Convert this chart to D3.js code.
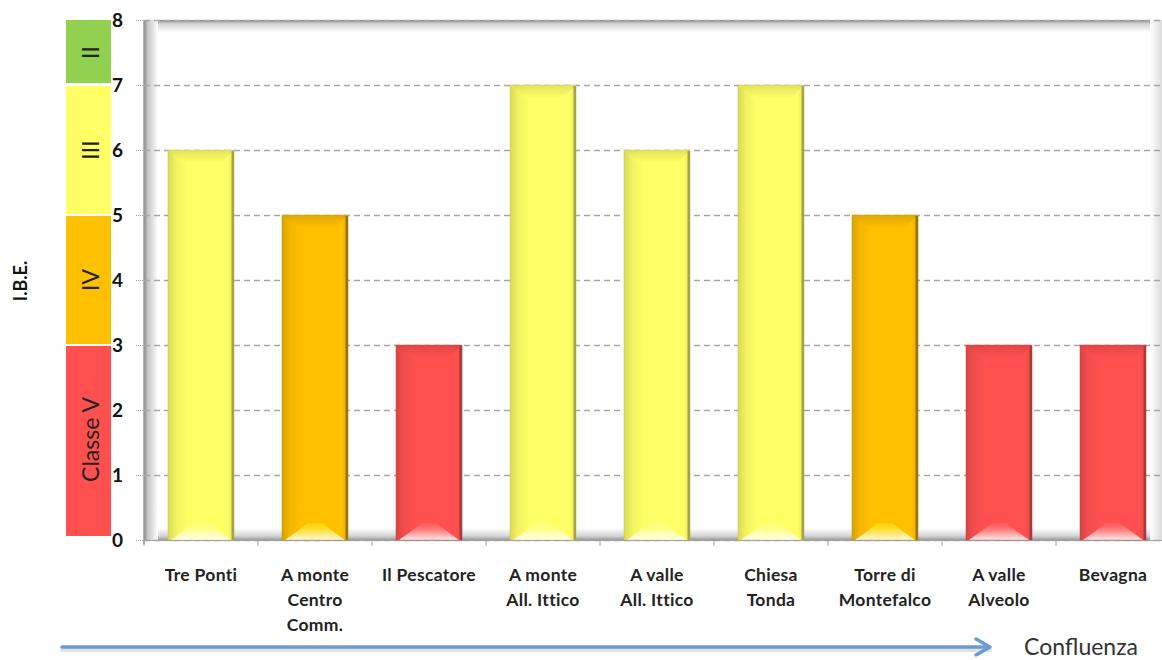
<!DOCTYPE html>
<html>
<head>
<meta charset="utf-8">
<script src="https://cdn.jsdelivr.net/npm/d3@7"></script>
<style>
  body { margin: 0; background: #fff; }
  text { font-family: Lato, "Open Sans", sans-serif; }
</style>
</head>
<body>
<div id="chart"></div>
<script>
// data
var categories = ["Tre Ponti", "A monte|Centro|Comm.", "Il Pescatore", "A monte|All. Ittico",
  "A valle|All. Ittico", "Chiesa|Tonda", "Torre di|Montefalco", "A valle|Alveolo", "Bevagna"];
var values = [6, 5, 3, 7, 6, 7, 5, 3, 3];
var yTicks = [0, 1, 2, 3, 4, 5, 6, 7, 8];

// quality classes (strip on the left)
var classLabels = ["Classe V", "IV", "III", "II"];
var classLow = [0, 3, 5, 7];
var classHigh = [3, 5, 7, 8];
var classColors = ["#ff5050", "#ffc000", "#ffff66", "#92d050"];

var W = 1162, H = 660;
var svg = d3.select("#chart").append("svg")
  .attr("width", W).attr("height", H);

var y = d3.scaleLinear().domain([0, 8]).range([540, 20]);
var x = d3.scaleBand().domain(categories).range([144, 1170])
  .paddingInner(0.42).paddingOuter(0.21);

var defs = svg.append("defs");

function lin(id, x1, y1, x2, y2, stops) {
  var g = defs.append("linearGradient").attr("id", id)
    .attr("x1", x1).attr("y1", y1).attr("x2", x2).attr("y2", y2);
  stops.forEach(function (s) {
    g.append("stop").attr("offset", s[0]).attr("stop-color", s[1]).attr("stop-opacity", s[2] == null ? 1 : s[2]);
  });
}

// walls of the plot area
lin("wallL", 0, 0, 1, 0, [[0, "#858585"], [0.25, "#c4c4c4"], [1, "#ffffff"]]);
lin("wallT", 0, 0, 0, 1, [[0, "#8c8c8c"], [0.3, "#d0d0d0"], [1, "#ffffff"]]);
lin("wallB", 0, 1, 0, 0, [[0, "#9a9a9a"], [0.35, "#d6d6d6"], [1, "#ffffff"]]);
lin("wallR", 1, 0, 0, 0, [[0, "#dcdcdc"], [1, "#ffffff"]]);

svg.append("rect").attr("x", 144).attr("y", 20).attr("width", 1162 - 144).attr("height", 12).attr("fill", "url(#wallT)");
svg.append("rect").attr("x", 144).attr("y", 528).attr("width", 1162 - 144).attr("height", 12).attr("fill", "url(#wallB)");
svg.append("rect").attr("x", 1150).attr("y", 20).attr("width", 12).attr("height", 520).attr("fill", "url(#wallR)");
svg.append("rect").attr("x", 144).attr("y", 20).attr("width", 14).attr("height", 520).attr("fill", "url(#wallL)");
svg.append("line").attr("x1", 144).attr("x2", 144).attr("y1", 20).attr("y2", 544)
  .attr("stroke", "#9a9a9a").attr("stroke-width", 1.5);

// gridlines
svg.append("g").selectAll("line").data(yTicks).enter().append("line")
  .attr("x1", 144).attr("x2", 1162)
  .attr("y1", function (d) { return y(d) + 0.5; }).attr("y2", function (d) { return y(d) + 0.5; })
  .attr("stroke", "#a6a6a6").attr("stroke-width", 1.3).attr("stroke-dasharray", "6,4");
svg.append("g").selectAll("line").data(yTicks).enter().append("line")
  .attr("x1", 136).attr("x2", 144)
  .attr("y1", function (d) { return y(d) + 0.5; }).attr("y2", function (d) { return y(d) + 0.5; })
  .attr("stroke", "#a6a6a6").attr("stroke-width", 1).attr("stroke-dasharray", "1,1");

// x axis line + ticks
svg.append("line").attr("x1", 144).attr("x2", 1162).attr("y1", 540.5).attr("y2", 540.5)
  .attr("stroke", "#a0a0a0");
var xb = categories.map(function (c) { return x(c) - x.step() * x.paddingInner() / 2; });
svg.append("g").selectAll("line").data(xb).enter().append("line")
  .attr("x1", function (d) { return d; }).attr("x2", function (d) { return d; })
  .attr("y1", 540).attr("y2", 546).attr("stroke", "#a0a0a0");

// bar colors by class
function classOf(v) {
  for (var i = 0; i < classLow.length; i++) {
    if (v > classLow[i] && v <= classHigh[i]) return i;
  }
  return 0;
}
var darkEdge = ["#8a3a3a", "#7a5a10", "#8a8a40", "#4a7030"];
classColors.forEach(function (c, i) {
  var base = d3.color(c);
  lin("body" + i, 0, 0, 1, 0, [[0, base.darker(0.45)], [0.12, base.darker(0.15)], [0.3, base], [0.9, base], [1, base.darker(0.3)]]);
  lin("top" + i, 0, 0, 0, 1, [[0, base.darker(0.4)], [1, base]]);
  lin("bot" + i, 0, 1, 0, 0, [[0, "#ffffff", 0.9], [1, base.brighter(0.6), 0.4]]);
});

var bars = svg.append("g").selectAll("g").data(categories).enter().append("g");
bars.each(function (c, i) {
  var g = d3.select(this);
  var k = classOf(values[i]);
  var x0 = x(c), w = x.bandwidth(), y0 = y(values[i]), y1 = y(0);
  var b = 13;
  g.append("rect").attr("x", x0).attr("y", y0).attr("width", w).attr("height", y1 - y0)
    .attr("fill", "url(#body" + k + ")");
  // top bevel
  g.append("path")
    .attr("d", "M" + x0 + "," + y0 + "L" + (x0 + w) + "," + y0 + "L" + (x0 + w - b) + "," + (y0 + b) +
      "L" + (x0 + b) + "," + (y0 + b) + "Z")
    .attr("fill", "url(#top" + k + ")").attr("opacity", 0.85);
  // bottom bevel (light)
  g.append("path")
    .attr("d", "M" + (x0 + 3) + "," + y1 + "L" + (x0 + w - 3) + "," + y1 + "L" + (x0 + w - 3 - b * 1.8) + "," + (y1 - b - 4) +
      "L" + (x0 + 3 + b * 1.8) + "," + (y1 - b - 4) + "Z")
    .attr("fill", "url(#bot" + k + ")");
  // dark right edge
  g.append("rect").attr("x", x0 + w - 2.5).attr("y", y0 + 1).attr("width", 2.5).attr("height", y1 - y0 - 1)
    .attr("fill", darkEdge[k]).attr("opacity", 0.75);
  g.append("rect").attr("x", x0).attr("y", y0).attr("width", w).attr("height", y1 - y0)
    .attr("fill", "none").attr("stroke", d3.color(classColors[k]).darker(0.8)).attr("stroke-opacity", 0.35);
});

// class strip
var strip = svg.append("g");
classLabels.forEach(function (lab, i) {
  var top = y(classHigh[i]), bot = y(classLow[i]);
  strip.append("rect").attr("x", 66).attr("y", top + (i < 3 ? 1 : 0)).attr("width", 45)
    .attr("height", bot - top - (i === 0 ? 5 : 2)).attr("fill", classColors[i]);
  strip.append("text")
    .attr("transform", "translate(99," + ((top + bot) / 2 + (i === 0 ? -3 : 0)) + ") rotate(-90)")
    .attr("text-anchor", "middle").attr("font-size", 23).attr("fill", "#222")
    .text(lab);
});

// y tick labels
svg.append("g").selectAll("text").data(yTicks).enter().append("text")
  .attr("x", 123).attr("y", function (d) { return y(d) + 7; })
  .attr("text-anchor", "end").attr("font-size", 19).attr("font-weight", "bold").attr("fill", "#111")
  .text(function (d) { return d; });

svg.append("text").attr("transform", "translate(27,281) rotate(-90)")
  .attr("text-anchor", "middle").attr("font-size", 18).attr("font-weight", "bold").attr("fill", "#111")
  .text("I.B.E.");

// x labels
var xl = svg.append("g").selectAll("text").data(categories).enter().append("text")
  .attr("text-anchor", "middle").attr("font-size", 17.5).attr("font-weight", "bold").attr("fill", "#222")
  .attr("letter-spacing", 0.3)
  .attr("x", function (d) { return x(d) + x.bandwidth() / 2; }).attr("y", 581);
xl.selectAll("tspan").data(function (d) { return d.split("|"); }).enter().append("tspan")
  .attr("x", function () { var p = this.parentNode.__data__; return x(p) + x.bandwidth() / 2; })
  .attr("dy", function (d, i) { return i === 0 ? 0 : 25; })
  .text(function (d) { return d; });

// flow arrow
var arrowColor = "#6b9bd6";
svg.append("line").attr("x1", 62).attr("x2", 990).attr("y1", 650).attr("y2", 650)
  .attr("stroke", "#cfcfcf").attr("stroke-width", 4).attr("stroke-linecap", "round").attr("opacity", 0.6);
svg.append("line").attr("x1", 62).attr("x2", 988).attr("y1", 647).attr("y2", 647)
  .attr("stroke", arrowColor).attr("stroke-width", 3.5).attr("stroke-linecap", "round");
svg.append("path").attr("d", "M976,639L990,647L976,655")
  .attr("fill", "none").attr("stroke", arrowColor).attr("stroke-width", 3.5)
  .attr("stroke-linecap", "round").attr("stroke-linejoin", "round");
svg.append("text").attr("x", 1024).attr("y", 655).attr("font-size", 23).attr("fill", "#333")
  .text("Confluenza");
</script>
</body>
</html>
